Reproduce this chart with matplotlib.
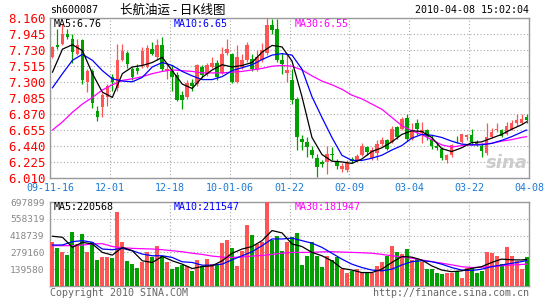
import numpy as np
import matplotlib
matplotlib.use("Agg")
import matplotlib.pyplot as plt

# ---- data (sh600087, daily) ----
opens = [7.63, 7.79, 7.81, 7.95, 7.88, 7.68, 7.86, 7.30, 7.44, 6.91,
         6.96, 7.09, 7.37, 7.21, 7.60, 7.69, 7.47, 7.49, 7.52, 7.50,
         7.74, 7.63, 7.79, 7.44, 7.45, 7.39, 7.12, 7.10, 7.29, 7.27,
         7.50, 7.41, 7.50, 7.56, 7.42, 7.69, 7.68, 7.30, 7.50, 7.59,
         7.61, 7.47, 7.59, 7.69, 8.07, 8.01, 7.60, 7.42, 7.33, 7.07,
         6.53, 6.49, 6.38, 6.27, 6.22, 6.22, 6.33, 6.23, 6.13, 6.11,
         6.26, 6.24, 6.32, 6.42, 6.27, 6.34, 6.46, 6.51, 6.49, 6.69,
         6.67, 6.81, 6.53, 6.74, 6.61, 6.65, 6.53, 6.43, 6.40, 6.25,
         6.31, 6.49, 6.49, 6.56, 6.58, 6.49, 6.43, 6.34, 6.56, 6.65,
         6.65, 6.60, 6.67, 6.74, 6.75, 6.83]
highs = [7.78, 8.01, 8.08, 8.01, 7.95, 7.88, 7.88, 7.47, 7.47, 6.98,
         7.15, 7.27, 7.41, 7.81, 7.81, 7.71, 7.50, 7.54, 7.77, 7.79,
         7.83, 7.88, 7.91, 7.55, 7.52, 7.43, 7.17, 7.32, 7.34, 7.54,
         7.52, 7.56, 7.63, 7.60, 7.77, 7.88, 7.69, 7.79, 7.68, 7.83,
         7.68, 7.73, 7.82, 8.16, 8.15, 8.15, 7.69, 7.68, 7.47, 7.09,
         6.58, 6.56, 6.44, 6.33, 6.24, 6.44, 6.42, 6.26, 6.21, 6.24,
         6.28, 6.33, 6.47, 6.44, 6.42, 6.51, 6.55, 6.53, 6.71, 6.71,
         6.82, 6.87, 6.74, 6.80, 6.76, 6.67, 6.58, 6.47, 6.42, 6.33,
         6.46, 6.57, 6.60, 6.60, 6.67, 6.51, 6.47, 6.74, 6.68, 6.74,
         6.67, 6.76, 6.78, 6.87, 6.87, 6.87]
lows = [7.62, 7.74, 7.80, 7.88, 7.56, 7.66, 7.27, 7.16, 6.95, 6.77,
        6.83, 6.97, 7.18, 7.17, 7.58, 7.48, 7.33, 7.41, 7.49, 7.48,
        7.66, 7.60, 7.44, 7.34, 7.17, 7.04, 6.94, 7.07, 7.18, 7.25,
        7.35, 7.38, 7.48, 7.33, 7.40, 7.66, 7.28, 7.28, 7.47, 7.57,
        7.45, 7.44, 7.57, 7.66, 7.95, 7.57, 7.41, 7.30, 7.00, 6.38,
        6.38, 6.29, 6.27, 6.02, 6.15, 6.06, 6.24, 6.13, 6.09, 6.09,
        6.20, 6.22, 6.30, 6.31, 6.25, 6.24, 6.44, 6.38, 6.47, 6.53,
        6.65, 6.50, 6.51, 6.58, 6.47, 6.52, 6.40, 6.38, 6.24, 6.21,
        6.29, 6.47, 6.47, 6.51, 6.45, 6.43, 6.29, 6.32, 6.54, 6.62,
        6.55, 6.58, 6.65, 6.71, 6.73, 6.74]
closes = [7.77, 7.77, 7.94, 7.90, 7.70, 7.79, 7.32, 7.44, 7.01, 6.83,
          7.12, 7.25, 7.30, 7.59, 7.71, 7.54, 7.36, 7.44, 7.72, 7.75,
          7.68, 7.79, 7.47, 7.47, 7.37, 7.06, 7.05, 7.28, 7.25, 7.52,
          7.39, 7.52, 7.56, 7.37, 7.68, 7.74, 7.30, 7.63, 7.59, 7.79,
          7.47, 7.64, 7.73, 8.07, 8.00, 7.59, 7.54, 7.46, 7.06, 6.56,
          6.49, 6.42, 6.31, 6.15, 6.19, 6.33, 6.32, 6.17, 6.17, 6.20,
          6.23, 6.30, 6.44, 6.36, 6.38, 6.46, 6.52, 6.40, 6.67, 6.55,
          6.80, 6.53, 6.65, 6.67, 6.65, 6.55, 6.43, 6.41, 6.27, 6.31,
          6.45, 6.48, 6.59, 6.58, 6.49, 6.45, 6.37, 6.55, 6.62, 6.67,
          6.57, 6.71, 6.74, 6.78, 6.80, 6.79]
volumes = [368500, 312700, 279200, 259600, 452200, 349000, 435500, 284700, 368500, 217700,
           237300, 242900, 228900, 611400, 368500, 209400, 181500, 153500, 195400, 284700,
           242900, 335000, 245700, 195400, 139600, 156300, 173100, 167500, 125600, 217700,
           167500, 223300, 181500, 181500, 360100, 385200, 318200, 167500, 293100, 510900,
           424300, 349000, 362900, 697000, 385200, 413200, 287500, 365700, 404800, 438300,
           175900, 251200, 362900, 251200, 159100, 251200, 215000, 237300, 145200, 111700,
           125600, 145200, 117200, 106100, 111700, 167500, 195400, 245700, 335000, 279200,
           265200, 307100, 215000, 223300, 195400, 145200, 139600, 111700, 97700, 111700,
           106100, 125600, 69800, 153500, 161900, 111700, 125600, 279200, 273600, 251200,
           181500, 321000, 245700, 209400, 145200, 237300]

# moving-average lines, read every second day
ma_days = [0, 2, 4, 6, 8, 10, 12, 14, 16, 18, 20, 22, 24, 26, 28, 30, 32, 34, 36, 38,
           40, 42, 44, 46, 48, 50, 52, 54, 56, 58, 60, 62, 64, 66, 68, 70, 72, 74, 76, 78,
           80, 82, 84, 86, 88, 90, 92, 94, 95]
ma5 = [7.43, 7.74, 7.80, 7.72, 7.41, 7.16, 7.09, 7.41, 7.50, 7.52,
       7.56, 7.63, 7.45, 7.27, 7.21, 7.36, 7.46, 7.53, 7.50, 7.52,
       7.56, 7.70, 7.79, 7.77, 7.58, 7.10, 6.55, 6.32, 6.23, 6.22,
       6.20, 6.26, 6.36, 6.41, 6.49, 6.59, 6.64, 6.63, 6.55, 6.40,
       6.36, 6.41, 6.48, 6.49, 6.54, 6.59, 6.66, 6.72, 6.76]
ma10 = [7.22, 7.41, 7.59, 7.67, 7.59, 7.45, 7.34, 7.31, 7.30, 7.36,
        7.50, 7.56, 7.52, 7.44, 7.38, 7.33, 7.33, 7.37, 7.45, 7.49,
        7.53, 7.60, 7.66, 7.68, 7.66, 7.47, 7.10, 6.82, 6.55, 6.31,
        6.24, 6.24, 6.27, 6.31, 6.38, 6.44, 6.54, 6.59, 6.58, 6.55,
        6.50, 6.46, 6.45, 6.45, 6.47, 6.51, 6.56, 6.62, 6.65]
ma30 = [6.65, 6.76, 6.89, 7.00, 7.09, 7.19, 7.26, 7.32, 7.34, 7.37,
        7.41, 7.44, 7.46, 7.45, 7.44, 7.42, 7.42, 7.42, 7.43, 7.44,
        7.46, 7.48, 7.51, 7.52, 7.51, 7.46, 7.38, 7.31, 7.26, 7.20,
        7.12, 7.07, 7.00, 6.93, 6.82, 6.71, 6.64, 6.59, 6.52, 6.45,
        6.42, 6.44, 6.45, 6.46, 6.47, 6.50, 6.52, 6.55, 6.56]
vma5 = [413200, 404800, 321000, 362900, 349000, 279200, 256800, 321000, 293100, 209400,
        195400, 245700, 209400, 181500, 145200, 161900, 167500, 209400, 272200, 307100,
        328000, 376900, 460600, 441100, 349000, 328000, 279200, 251200, 209400, 146600,
        132600, 111700, 111700, 139600, 195400, 244300, 240100, 216300, 167500, 132600,
        118600, 125600, 146600, 160500, 195400, 223300, 217700, 216300, 220600]
vma10 = [340600, 340600, 368500, 376900, 362900, 307100, 301500, 312700, 293100, 265200,
         251200, 251200, 237300, 201000, 195400, 173100, 173100, 181500, 217700, 251200,
         284700, 335000, 390800, 390800, 397800, 376900, 355900, 321000, 272200, 223300,
         181500, 153500, 132600, 125600, 139600, 174500, 202400, 209400, 202400, 181500,
         153500, 132600, 128400, 139600, 160500, 174500, 188400, 202400, 211500]
vma30 = [335000, 335000, 335000, 340600, 349000, 351700, 328000, 318200, 312700, 309900,
         307100, 301500, 293100, 284700, 272200, 262400, 248500, 240100, 237300, 241500,
         248500, 254000, 262400, 272200, 279200, 279200, 279200, 283300, 284700, 282000,
         279200, 276400, 272200, 262400, 251200, 241500, 230300, 216300, 202400, 189800,
         175900, 160500, 153500, 156300, 160500, 167500, 174500, 178700, 181900]

price_ticks = [6.010, 6.225, 6.440, 6.655, 6.870, 7.085, 7.300, 7.515, 7.730, 7.945, 8.160]
vol_ticks = [139580, 279160, 418739, 558319, 697899]
date_labels = ["09-11-16", "12-01", "12-18", "10-01-06", "01-22",
               "02-09", "03-04", "03-22", "04-08"]

RED = "#ff5555"
GREEN = "#00a000"
MONO = "DejaVu Sans Mono"

x = np.arange(len(closes))
o = np.array(opens)
c = np.array(closes)
up = c >= o
colors = np.where(up, RED, GREEN)

W, H = 545, 300
fig = plt.figure(figsize=(W / 100, H / 100), dpi=100)
ax = fig.add_axes([50 / W, 1 - 177.5 / H, 479 / W, 159.5 / H])
axv = fig.add_axes([50 / W, 1 - 286 / H, 479 / W, 84 / H])

grid_x = [-0.5 + 12 * i for i in range(len(date_labels))]

for a in (ax, axv):
    a.set_xlim(-0.5, 95.5)
    a.set_xticks(grid_x)
    a.tick_params(length=0)
    a.grid(True, color="#a8a8a8", linestyle=(0, (1, 2)), linewidth=0.8)
    a.set_axisbelow(True)
    for s in a.spines.values():
        s.set_color("#999999")
        s.set_linewidth(1)

# price panel
ax.vlines(x, lows, highs, colors=colors, linewidth=0.9, zorder=2)
body = np.maximum(np.abs(c - o), 0.008)
ax.bar(x, body, bottom=np.minimum(o, c), width=0.72, color=colors, zorder=3)
ax.plot(ma_days, ma30, color="#ff00ff", lw=0.9, zorder=4)
ax.plot(ma_days, ma10, color="#0000ff", lw=0.9, zorder=4)
ax.plot(ma_days, ma5, color="black", lw=0.9, zorder=4)
ax.set_ylim(6.01, 8.16)
ax.set_yticks(price_ticks)
ax.set_yticklabels(["%.3f" % p for p in price_ticks], color="red",
                   fontsize=9, family=MONO)
ax.tick_params(axis="y", pad=3)
ax.set_xticklabels(date_labels, color="#1a7ad6", fontsize=7.2, family=MONO)
ax.tick_params(axis="x", pad=4)

# volume panel
axv.bar(x, volumes, width=0.8, color=colors, zorder=3)
axv.plot(ma_days, vma30, color="#ff00ff", lw=0.9, zorder=4)
axv.plot(ma_days, vma10, color="#0000ff", lw=0.9, zorder=4)
axv.plot(ma_days, vma5, color="black", lw=0.9, zorder=4)
axv.set_ylim(0, 697899)
axv.set_yticks(vol_ticks)
axv.set_yticklabels([str(v) for v in vol_ticks], color="#888888",
                    fontsize=6.8, family=MONO)
axv.tick_params(axis="y", pad=4)
axv.set_xticklabels([])


def put(px, py, s, **kw):
    fig.text(px / W, 1 - py / H, s, va="center", **kw)


put(50, 10, "sh600087", fontsize=7.2, family=MONO)
put(120, 10, "长航油运 - 日K线图", fontsize=9,
    family=["Noto Sans CJK SC", "DejaVu Sans"])
put(529, 10, "2010-04-08 15:02:04", fontsize=7.2, family=MONO, ha="right")

put(54, 24, "MA5:6.76", fontsize=7.2, family=MONO, color="black")
put(174, 24, "MA10:6.65", fontsize=7.2, family=MONO, color="#0000ff")
put(295, 24, "MA30:6.55", fontsize=7.2, family=MONO, color="#ff00ff")

put(54, 207, "MA5:220568", fontsize=7.2, family=MONO, color="black")
put(174, 207, "MA10:211547", fontsize=7.2, family=MONO, color="#0000ff")
put(295, 207, "MA30:181947", fontsize=7.2, family=MONO, color="#ff00ff")

put(50, 293, "Copyright 2010 SINA.COM", fontsize=7.2, family=MONO, color="#666666")
put(529, 293, "http://finance.sina.com.cn", fontsize=7.2, family=MONO,
    color="#666666", ha="right")

put(528, 163, "sina", fontsize=13, color="#cccccc", ha="right",
    style="italic", weight="bold")

fig.savefig("out.png", dpi=100)
